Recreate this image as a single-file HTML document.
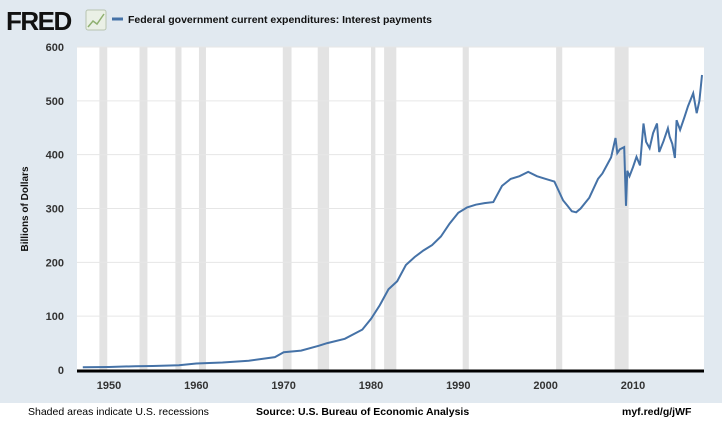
<!DOCTYPE html>
<html><head><meta charset="utf-8"><style>
body{margin:0;width:722px;height:424px;overflow:hidden;background:#fff;font-family:"Liberation Sans",sans-serif}
#bg{position:absolute;left:0;top:0;width:722px;height:403px;background:#e1e9f0}
svg{position:absolute;left:0;top:0}
.foot{position:absolute;top:406px;font-size:10.5px;color:#000}
</style></head><body>
<div id="bg"></div>
<svg width="722" height="424" id="chart">
<text x="6" y="30" font-size="26" font-weight="bold" fill="#111" font-family="Liberation Sans" letter-spacing="-1.5">FRED</text>
<g><rect x="86" y="10" width="20" height="20" rx="2" fill="#eaf0e6" stroke="#b8c4b0"/><polyline points="88,27 93,21 97,24 104,14" fill="none" stroke="#8fb070" stroke-width="1.5"/></g>
<line x1="112" y1="19" x2="123" y2="19" stroke="#4572a7" stroke-width="3"/>
<text x="128" y="23" font-size="10.5" font-weight="bold" fill="#111">Federal government current expenditures: Interest payments</text>
<rect x="77" y="47" width="627" height="324" fill="#fff"/>
<g id="rec"></g><g id="grid"></g><g id="ticks"></g>
<text transform="translate(28,209) rotate(-90)" text-anchor="middle" font-size="10" font-weight="bold" fill="#111">Billions of Dollars</text>
<path id="line" fill="none" stroke="#4572a7" stroke-width="2"/>
<line x1="77" y1="371" x2="704" y2="371" stroke="#000" stroke-width="3"/>
</svg>
<div class="foot" style="left:28px">Shaded areas indicate U.S. recessions</div>
<div class="foot" style="left:256px;font-weight:bold">Source: U.S. Bureau of Economic Analysis</div>
<div class="foot" style="left:622px;font-weight:bold">myf.red/g/jWF</div>
<script>
const years=[1947,1950,1953,1955,1958,1960,1963,1966,1969,1970,1972,1974,1975,1977,1979,1980,1981,1982,1983,1984,1985,1986,1987,1988,1989,1990,1991,1992,1993,1994,1995,1996,1997,1998,1999,2000,2001,2002,2002.5,2003,2003.5,2004,2005,2006,2006.5,2007,2007.5,2008,2008.2,2008.5,2009,2009.2,2009.35,2009.6,2010,2010.4,2010.8,2011.2,2011.5,2011.9,2012.3,2012.75,2013,2013.5,2014,2014.2,2014.5,2014.8,2015,2015.4,2015.9,2016.3,2016.9,2017.3,2017.6,2017.9];
const values=[5,5.5,7,7.5,9,12,14,17,24,33,36,45,50,58,75,95,120,150,165,195,210,222,232,248,272,292,302,307,310,312,342,355,360,368,360,355,350,315,305,295,293,300,320,355,365,380,395,431,403,410,414,305,370,360,377,396,380,458,424,412,440,458,405,425,449,433,420,394,464,446,470,490,514,477,500,548];
const recStart=[1948.9,1953.5,1957.6,1960.3,1969.9,1973.9,1980.0,1981.5,1990.5,2001.2,2007.9];
const recEnd=[1949.8,1954.4,1958.3,1961.1,1970.9,1975.2,1980.5,1982.9,1991.2,2001.9,2009.5];
const yTicks=[0,100,200,300,400,500,600];
const xTicks=[1950,1960,1970,1980,1990,2000,2010];
const X=y=>109+(y-1950)*8.733, Y=v=>370-v*0.5383;
const NS="http://www.w3.org/2000/svg";
function mk(t,a,p){const e=document.createElementNS(NS,t);for(const k in a)e.setAttribute(k,a[k]);p.appendChild(e);return e;}
const rec=document.getElementById('rec');
recStart.forEach((s,i)=>{const r=mk('rect',{x:X(s),y:47,width:Math.max(X(recEnd[i])-X(s),4),height:324,fill:'#e3e3e3'},rec);

});
const grid=document.getElementById('grid'),tk=document.getElementById('ticks');
yTicks.forEach(v=>{if(v>0){const l=mk('line',{x1:77,x2:704,y1:Y(v),y2:Y(v),stroke:'#e6e6e6'},grid);

}
const t=mk('text',{x:64,y:Y(v)+4,'text-anchor':'end','font-size':11,'font-weight':'bold',fill:'#333'},tk);t.textContent=v;

});
xTicks.forEach(y=>{const t=mk('text',{x:X(y),y:389,'text-anchor':'middle','font-size':11,'font-weight':'bold',fill:'#333'},tk);t.textContent=y;

});
document.getElementById('line').setAttribute('d',years.map((y,i)=>(i?'L':'M')+X(y).toFixed(1)+','+Y(values[i]).toFixed(1)).join(''));
</script>
</body></html>
